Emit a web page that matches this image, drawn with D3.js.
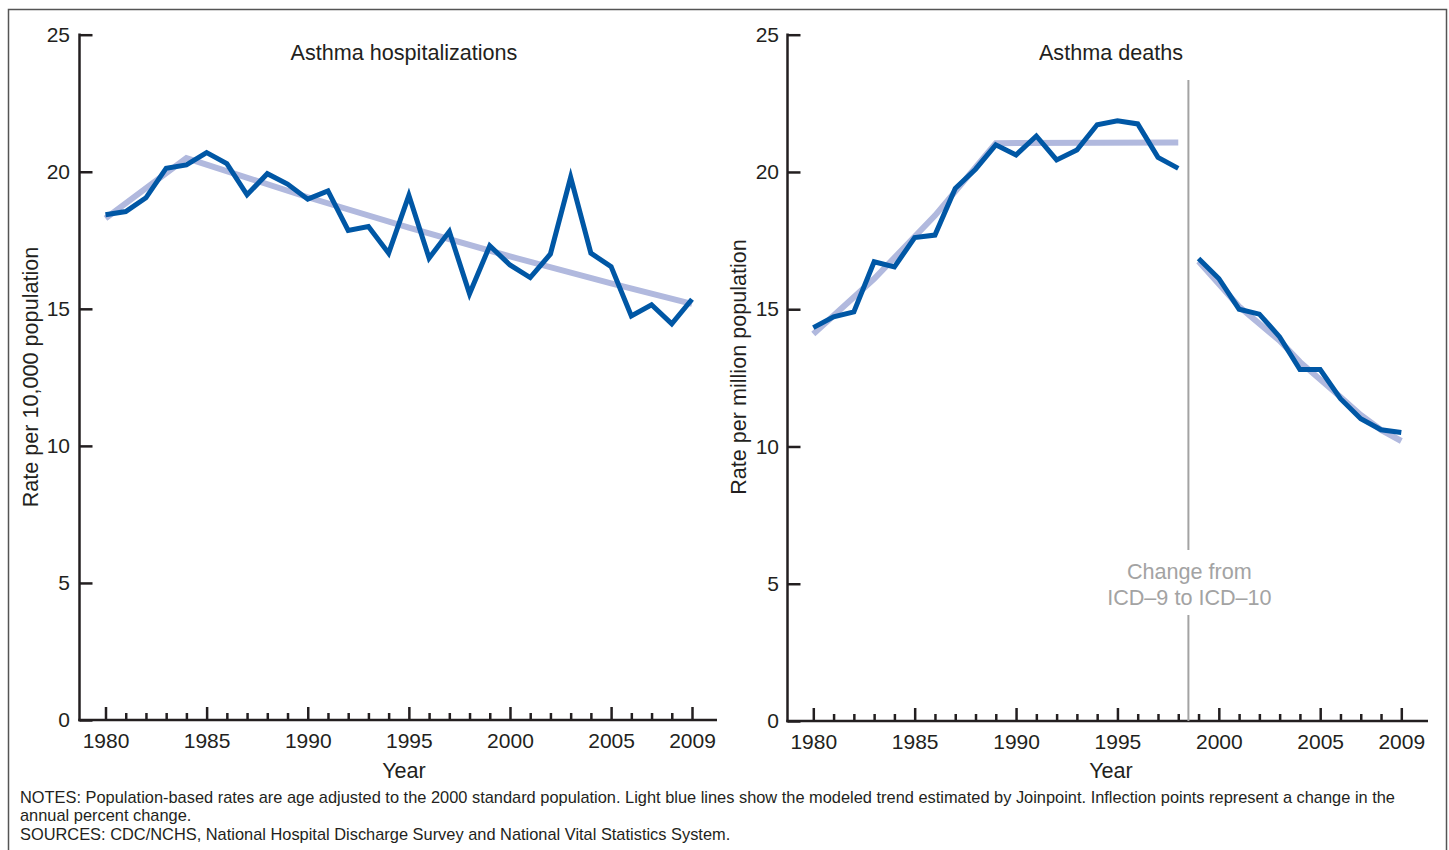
<!DOCTYPE html>
<html>
<head>
<meta charset="utf-8">
<script src="https://cdn.jsdelivr.net/npm/d3@7/dist/d3.min.js"></script>
<style>
  html, body { margin: 0; padding: 0; background: #fff; }
  svg { display: block; font-family: "Liberation Sans", Arial, sans-serif; }
</style>
</head>
<body>
<svg id="chart" width="1449" height="850"></svg>
<script>
// ---------- DATA ----------
const years = d3.range(1980, 2010);
const hospRates = [18.43, 18.55, 19.05, 20.13, 20.25, 20.7, 20.3, 19.16, 19.93, 19.55,
                   19.0, 19.3, 17.86, 18.0, 17.03, 19.14, 16.85, 17.82, 15.55, 17.3,
                   16.6, 16.14, 17.0, 19.8, 17.03, 16.54, 14.74, 15.15, 14.45, 15.35];
const hospTrendYears = [1980, 1984, 1990, 1995, 2000, 2005, 2009];
const hospTrendRates = [18.3, 20.5, 19.07, 17.96, 16.91, 15.93, 15.18];

const deathYearsICD9 = d3.range(1980, 1999);
const deathRatesICD9 = [14.33, 14.72, 14.9, 16.73, 16.54, 17.61, 17.7, 19.4, 20.1, 20.99,
                        20.62, 21.31, 20.44, 20.8, 21.72, 21.86, 21.75, 20.53, 20.13];
const deathYearsICD10 = d3.range(1999, 2010);
const deathRatesICD10 = [16.85, 16.12, 15.0, 14.82, 13.99, 12.8, 12.8, 11.74, 11.01, 10.61, 10.51];

const deathTrend1Years = [1980, 1983, 1986, 1989, 1998];
const deathTrend1Rates = [14.1, 16.11, 18.41, 21.05, 21.07];
const deathTrend2Years = [1999, 2001, 2003, 2004, 2006, 2007, 2008, 2009];
const deathTrend2Rates = [16.75, 15.1, 13.85, 13.08, 11.8, 11.15, 10.6, 10.2];

const yTicks = [0, 5, 10, 15, 20, 25];
const xLabelTicks = [1980, 1985, 1990, 1995, 2000, 2005, 2009];
const titles = ["Asthma hospitalizations", "Asthma deaths"];
const yTitles = ["Rate per 10,000 population", "Rate per million population"];
const xTitle = "Year";
const icdNote = ["Change from", "ICD\u20139 to ICD\u201310"];
const breakYear = 1998.5;
const notes = [
  "NOTES: Population-based rates are age adjusted to the 2000 standard population. Light blue lines show the modeled trend estimated by Joinpoint. Inflection points represent a change in the",
  "annual percent change.",
  "SOURCES: CDC/NCHS, National Hospital Discharge Survey and National Vital Statistics System."
];

// ---------- STYLE ----------
const AXIS = "#231f20";
const DARK = "#0057a5";
const LIGHT = "#b1b9de";
const GRAY = "#a3a3a3";
const FONT = "'Liberation Sans', Arial, sans-serif";
const TICK_FS = 21;
const TITLE_FS = 21.6;

const svg = d3.select("#chart");

// frame
svg.append("rect").attr("x", 8.5).attr("y", 9.5).attr("width", 1438).attr("height", 860)
  .attr("fill", "none").attr("stroke", "#555").attr("stroke-width", 1.5);

const panels = [
  { x0: 105.5, x1: 692, axisL: 79.5, axisR: 717, yTop: 34.7, yBot: 720, title: titles[0], yTitle: yTitles[0],
    titleX: 404, yTitleX: 38, yTitleY: 377, yPad: 9.5 },
  { x0: 813.3, x1: 1401.3, axisL: 787.5, axisR: 1428, yTop: 34.7, yBot: 721, title: titles[1], yTitle: yTitles[1],
    titleX: 1111, yTitleX: 746, yTitleY: 367, yPad: 8.5 }
];

function drawPanel(p) {
  const x = d3.scaleLinear().domain([1980, 2009]).range([p.x0, p.x1]);
  const y = d3.scaleLinear().domain([0, 25]).range([p.yBot, p.yTop]);
  const g = svg.append("g");

  // y ticks (inward)
  const yAxis = d3.axisLeft(y).tickValues(yTicks).tickSizeInner(-13).tickSizeOuter(0).tickPadding(p.yPad);
  const ya = g.append("g").attr("transform", `translate(${p.axisL},0)`).call(yAxis);
  ya.select(".domain").remove();
  ya.selectAll(".tick line").attr("stroke", AXIS).attr("stroke-width", 2.5);
  ya.selectAll(".tick text").attr("font-size", TICK_FS).attr("fill", AXIS).attr("font-family", FONT);

  // x ticks (inward) : minor
  const xMinor = d3.axisBottom(x).tickValues(years.filter(yv => xLabelTicks.indexOf(yv) < 0))
    .tickSizeInner(-7).tickSizeOuter(0).tickFormat("");
  const xm = g.append("g").attr("transform", `translate(0,${p.yBot})`).call(xMinor);
  xm.select(".domain").remove();
  xm.selectAll(".tick line").attr("stroke", AXIS).attr("stroke-width", 2.5);

  const xMajor = d3.axisBottom(x).tickValues(xLabelTicks).tickSizeInner(-13).tickSizeOuter(0)
    .tickPadding(13).tickFormat(d3.format("d"));
  const xM = g.append("g").attr("transform", `translate(0,${p.yBot})`).call(xMajor);
  xM.select(".domain").remove();
  xM.selectAll(".tick line").attr("stroke", AXIS).attr("stroke-width", 2.5);
  xM.selectAll(".tick text").attr("font-size", TICK_FS).attr("fill", AXIS).attr("font-family", FONT);

  // axis lines
  g.append("line").attr("x1", p.axisL).attr("x2", p.axisL).attr("y1", p.yTop - 1.2).attr("y2", p.yBot + 1.2)
    .attr("stroke", AXIS).attr("stroke-width", 2.5);
  g.append("line").attr("x1", p.axisL - 1.2).attr("x2", p.axisR).attr("y1", p.yBot).attr("y2", p.yBot)
    .attr("stroke", AXIS).attr("stroke-width", 2.5);

  // titles
  g.append("text").attr("x", p.titleX).attr("y", 60).attr("text-anchor", "middle")
    .attr("font-size", TITLE_FS).attr("fill", AXIS).text(p.title);
  g.append("text").attr("x", p.titleX).attr("y", 778).attr("text-anchor", "middle")
    .attr("font-size", TITLE_FS).attr("fill", AXIS).text(xTitle);
  g.append("text").attr("transform", `translate(${p.yTitleX},${p.yTitleY}) rotate(-90)`)
    .attr("text-anchor", "middle").attr("font-size", TITLE_FS).attr("fill", AXIS).text(p.yTitle);

  return { x, y, g };
}

const L = drawPanel(panels[0]);
const R = drawPanel(panels[1]);

function addLine(P, xs, vs, color, width) {
  const line = d3.line().x(d => P.x(d[0])).y(d => P.y(d[1]));
  P.g.append("path").datum(xs.map((yr, i) => [yr, vs[i]]))
    .attr("d", line).attr("fill", "none").attr("stroke", color)
    .attr("stroke-width", width).attr("stroke-linejoin", "miter").attr("stroke-miterlimit", 4);
}

// ICD break line (right panel)
const bx = R.x(breakYear);
R.g.append("line").attr("x1", bx).attr("x2", bx).attr("y1", 80).attr("y2", 550)
  .attr("stroke", GRAY).attr("stroke-width", 2);
R.g.append("line").attr("x1", bx).attr("x2", bx).attr("y1", 615).attr("y2", 721)
  .attr("stroke", GRAY).attr("stroke-width", 2);
R.g.append("text").attr("x", bx + 1).attr("y", 579).attr("text-anchor", "middle")
  .attr("font-size", TITLE_FS).attr("fill", GRAY).text(icdNote[0]);
R.g.append("text").attr("x", bx + 1).attr("y", 605).attr("text-anchor", "middle")
  .attr("font-size", TITLE_FS).attr("fill", GRAY).text(icdNote[1]);

// trends
addLine(L, hospTrendYears, hospTrendRates, LIGHT, 6);
addLine(R, deathTrend1Years, deathTrend1Rates, LIGHT, 6);
addLine(R, deathTrend2Years, deathTrend2Rates, LIGHT, 6);
// observed
addLine(L, years, hospRates, DARK, 5);
addLine(R, deathYearsICD9, deathRatesICD9, DARK, 5);
addLine(R, deathYearsICD10, deathRatesICD10, DARK, 5);

// notes
svg.append("g").selectAll("text").data(notes).join("text")
  .attr("x", 20).attr("y", (d, i) => 802.5 + i * 18.5)
  .attr("font-size", 16.4).attr("fill", AXIS).text(d => d);
</script>
</body>
</html>
